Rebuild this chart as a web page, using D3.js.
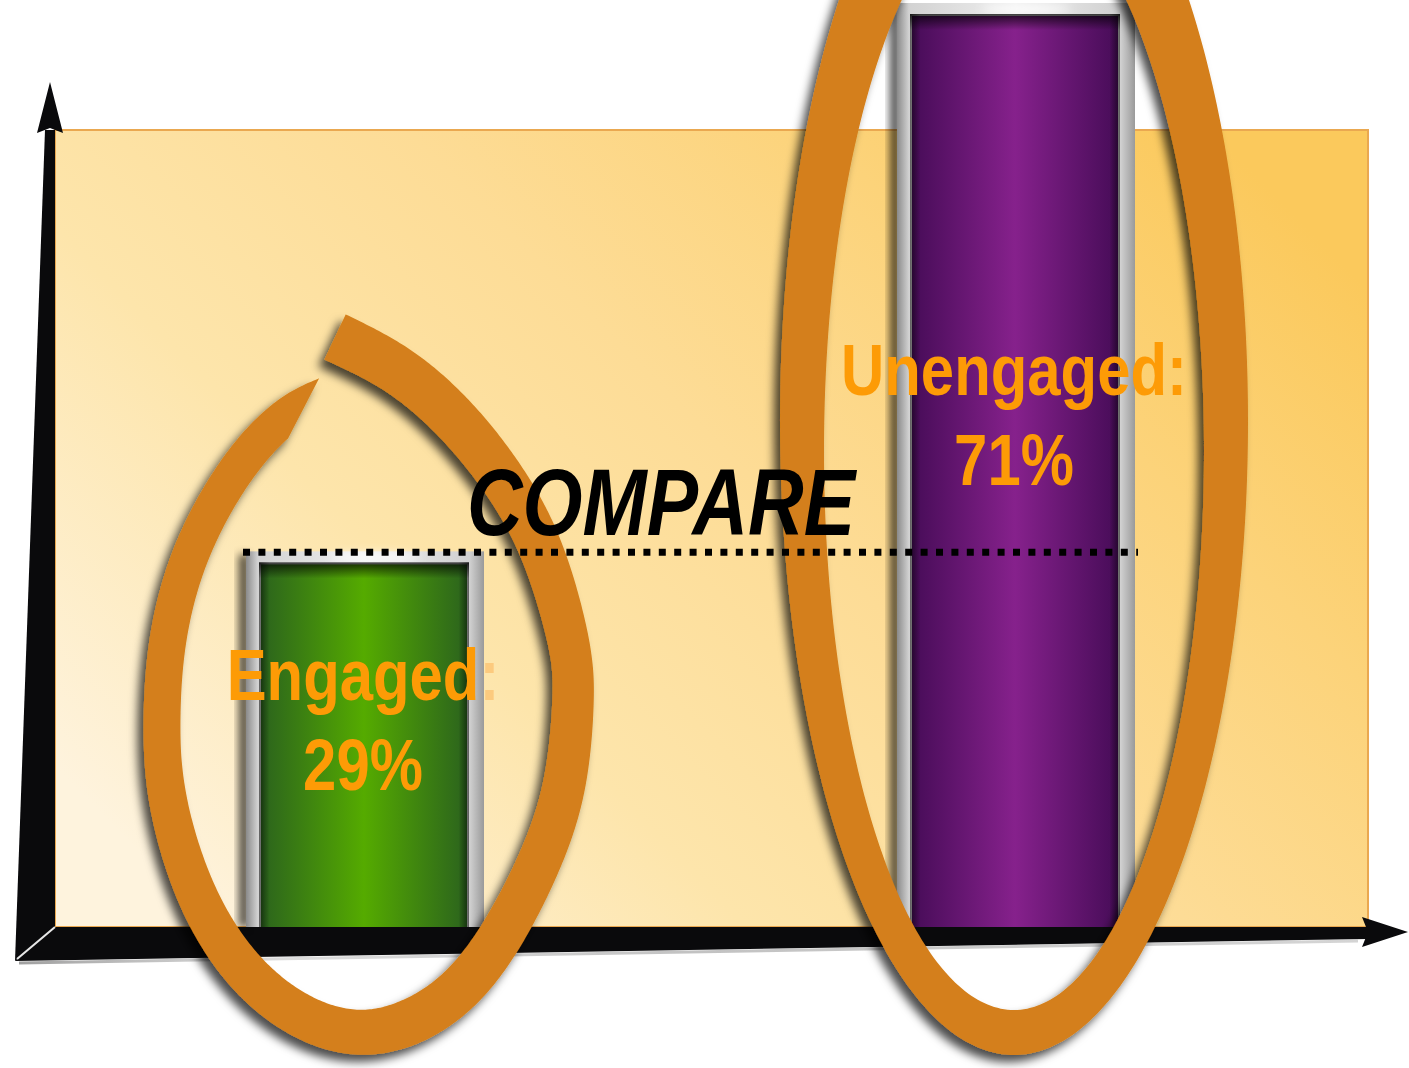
<!DOCTYPE html>
<html>
<head>
<meta charset="utf-8">
<script src="https://cdn.jsdelivr.net/npm/d3@7"></script>
<style>
  html, body { margin: 0; padding: 0; background: #ffffff; overflow: hidden; }
  svg { display: block; }
</style>
</head>
<body>
<svg id="chart" width="1409" height="1068"></svg>
<script>
// ---- data ----
const categories = ["Engaged", "Unengaged"];
const values = [29, 71];
const labelNames = ["Engaged:", "Unengaged:"];
const valueLabels = ["29%", "71%"];
const titleText = "COMPARE";

// ---- styles ----
const barPalette = {
  Engaged:   { edge: "#2b631d", mid: "#55ab00" },
  Unengaged: { edge: "#470c58", mid: "#86218c" }
};
const ringColor = "#d47f1a";
const labelColor = "#fd9b06";
const labelFont = "'Liberation Sans', Arial, Helvetica, sans-serif";
const narrow = 0.82;   // horizontal squeeze giving the condensed lettering

// ---- layout ----
const W = 1409, H = 1068;
const panel = { left: 55, right: 1368, top: 130 };
const x = d3.scalePoint().domain(categories).range([365, 1016]);
const y = d3.scaleLinear().domain([0, d3.max(values)]).range([927, 0]);
const floorY = y(0);
const barW = 238;
const labelRise = [0.60, 0.574];   // first label line sits at this share of the bar's value

const svg = d3.select("#chart");
const defs = svg.append("defs");

function linGrad(id, x1, y1, x2, y2, stops) {
  const g = defs.append("linearGradient").attr("id", id)
    .attr("x1", x1).attr("y1", y1).attr("x2", x2).attr("y2", y2);
  stops.forEach(([o, c, op]) => g.append("stop").attr("offset", o).attr("stop-color", c)
    .attr("stop-opacity", op === undefined ? 1 : op));
  return g;
}

linGrad("panelGrad", 0, 0.8, 1, 0.2, [
  [0, "#fef3dd"], [0.3, "#fde5ab"], [0.55, "#fddc96"], [0.78, "#fcd37a"], [1, "#fbc95c"]
]);
linGrad("frameGrad", 0, 0, 1, 0, [
  [0, "#8a8a8a"], [0.05, "#d2d2d2"], [0.5, "#efefef"], [0.94, "#d0d0d0"], [1, "#9a9a9a"]
]);
linGrad("innerTopShade", 0, 0, 0, 1, [[0, "#000", 0.75], [1, "#000", 0]]);
linGrad("innerSideShade", 0, 0, 1, 0, [
  [0, "#000", 0.55], [0.05, "#000", 0], [0.95, "#000", 0], [1, "#000", 0.55]
]);
linGrad("floorGlow", 0, 0, 1, 0, [
  [0, "#888", 0.8], [0.2, "#bbb", 0.5], [0.5, "#999", 0.6], [1, "#aaa", 0.5]
]);
categories.forEach(c => {
  const p = barPalette[c];
  linGrad("bar-" + c, 0, 0, 1, 0, [[0, p.edge], [0.5, p.mid], [1, p.edge]]);
});

const blur = defs.append("filter").attr("id", "soft")
  .attr("x", "-50%").attr("y", "-10%").attr("width", "200%").attr("height", "120%");
blur.append("feGaussianBlur").attr("stdDeviation", 4);

const sheen = defs.append("filter").attr("id", "sheen")
  .attr("x", "-50%").attr("y", "-200%").attr("width", "200%").attr("height", "500%");
sheen.append("feGaussianBlur").attr("stdDeviation", 5);

const ringShadow = defs.append("filter").attr("id", "ringShadow")
  .attr("x", "-20%").attr("y", "-10%").attr("width", "140%").attr("height", "120%");
ringShadow.append("feDropShadow").attr("dx", -6).attr("dy", 7)
  .attr("stdDeviation", 5).attr("flood-color", "#000").attr("flood-opacity", 0.7);

// ---- background panel ----
svg.append("rect")
  .attr("x", panel.left).attr("y", panel.top)
  .attr("width", panel.right - panel.left).attr("height", floorY - panel.top)
  .attr("fill", "url(#panelGrad)")
  .attr("stroke", "#eaa850").attr("stroke-width", 2);

// ---- axes ----
const axes = svg.append("g").attr("class", "axes");
axes.append("path")
  .attr("d", `M${panel.left - 10},${panel.top} L${panel.left},${panel.top} L${panel.left},${floorY} L${panel.left - 40},${floorY + 34} Z`)
  .attr("fill", "#0a0a0c");
axes.append("path")
  .attr("d", `M${panel.left - 18},${panel.top + 3} L${panel.left - 5},${panel.top - 48} L${panel.left + 8},${panel.top + 3} L${panel.left - 5},${panel.top - 2} Z`)
  .attr("fill", "#0a0a0c");
axes.append("path")
  .attr("d", `M${panel.left - 40},${floorY + 34} L${panel.left},${floorY} L${panel.right},${floorY} L${panel.right},${floorY + 12} Z`)
  .attr("fill", "#0a0a0c");
axes.append("path")
  .attr("d", `M${panel.right - 6},${floorY - 10} L${panel.right + 40},${floorY + 5} L${panel.right - 6},${floorY + 20} L${panel.right},${floorY + 5} Z`)
  .attr("fill", "#0a0a0c");
axes.append("path")
  .attr("d", `M${panel.left - 36},${floorY + 36} L${panel.right - 10},${floorY + 14}`)
  .attr("stroke", "url(#floorGlow)").attr("stroke-width", 3).attr("fill", "none");
axes.append("line")
  .attr("x1", panel.left).attr("y1", floorY)
  .attr("x2", panel.left - 38).attr("y2", floorY + 32)
  .attr("stroke", "#e6e6e6").attr("stroke-width", 2);

// ---- bars ----
const barData = categories.map((c, i) => ({ cat: c, value: values[i], i }));
const bars = svg.append("g").attr("class", "bars")
  .selectAll("g").data(barData).join("g");

bars.append("rect")
  .attr("x", d => x(d.cat) - barW / 2 - 7)
  .attr("y", d => y(d.value) + 6)
  .attr("width", 10)
  .attr("height", d => floorY - y(d.value) - 6)
  .attr("fill", "#000").attr("opacity", 0.7)
  .attr("filter", "url(#soft)");

bars.append("rect")
  .attr("x", d => x(d.cat) - barW / 2)
  .attr("y", d => y(d.value) + 3)
  .attr("width", barW)
  .attr("height", d => floorY - y(d.value) - 3)
  .attr("fill", "url(#frameGrad)");

bars.append("ellipse")
  .attr("cx", d => x(d.cat) + 10)
  .attr("cy", d => y(d.value) + 9)
  .attr("rx", 45).attr("ry", 4)
  .attr("fill", "#ffffff").attr("filter", "url(#sheen)");

bars.append("rect")
  .attr("x", d => x(d.cat) - barW / 2 + 15)
  .attr("y", d => y(d.value) + 16)
  .attr("width", barW - 32)
  .attr("height", d => floorY - y(d.value) - 16)
  .attr("fill", d => `url(#bar-${d.cat})`);
bars.append("rect")
  .attr("x", d => x(d.cat) - barW / 2 + 13)
  .attr("y", d => y(d.value) + 14)
  .attr("width", barW - 28)
  .attr("height", d => floorY - y(d.value) - 14)
  .attr("fill", "url(#innerSideShade)");
bars.append("rect")
  .attr("x", d => x(d.cat) - barW / 2 + 13)
  .attr("y", d => y(d.value) + 14)
  .attr("width", barW - 28)
  .attr("height", 16)
  .attr("fill", "url(#innerTopShade)");

// ---- highlight rings ----
const rings = svg.append("g").attr("class", "rings").attr("filter", "url(#ringShadow)");
const rad = Math.PI / 180;

// Open teardrop loop, drawn clockwise from the top point, as a brush stroke.
// The guide shape is given relative to the loop's centre.
const loopGuide = [
  [-33, -362], [32, -327], [92, -274], [142, -209], [177, -139], [200, -59], [205, 1],
  [197, 81], [172, 161], [127, 246], [72, 306], [2, 333], [-68, 316], [-128, 266],
  [-173, 191], [-200, 101], [-206, 21], [-200, -59], [-180, -137], [-147, -205],
  [-110, -256], [-74, -288], [-42, -304]
];
const widthStops = d3.scaleLinear()
  .domain([0, 0.25, 0.5, 0.75, 1])
  .range([50, 41, 46, 37, 36]);
const innerEnd = 0.965;   // inner edge stops short of the outer one: slanted, pointed end

function teardropStroke(cx, cy) {
  const guideD = d3.line().curve(d3.curveNatural)(loopGuide.map(([dx, dy]) => [cx + dx, cy + dy]));
  const probe = defs.append("path").attr("d", guideD).node();
  const L = probe.getTotalLength();
  const sample = (f, side) => {
    const s = L * f;
    const p = probe.getPointAtLength(s);
    const p0 = probe.getPointAtLength(Math.max(0, s - 2));
    const p1 = probe.getPointAtLength(Math.min(L, s + 2));
    const tx = p1.x - p0.x, ty = p1.y - p0.y, len = Math.hypot(tx, ty) || 1;
    const off = side * widthStops(f) / 2;
    return [p.x + (ty / len) * off, p.y + (-tx / len) * off];
  };
  const N = 600;
  const outer = d3.range(N + 1).map(i => sample(i / N, 1));
  const inner = d3.range(N + 1).map(i => sample(innerEnd * i / N, -1)).reverse();
  probe.remove();
  return d3.line()(outer.concat(inner)) + "Z";
}

function ellipsePoints(cx, cy, rx, ry) {
  return d3.range(0, 360, 1).map(d => [cx + rx * Math.sin(d * rad), cy - ry * Math.cos(d * rad)]);
}
// closed loop: outer and inner ellipse, thicker at the bottom
function loopStroke(cx) {
  const closed = d3.line().curve(d3.curveLinearClosed);
  return closed(ellipsePoints(cx, 421, 234, 634)) + " " + closed(ellipsePoints(cx, 451, 190, 559));
}

rings.append("path")
  .attr("d", teardropStroke(x("Engaged") + 3, 699))
  .attr("fill", ringColor);
rings.append("path")
  .attr("d", loopStroke(x("Unengaged") - 2))
  .attr("fill", ringColor)
  .attr("fill-rule", "evenodd");

// ---- comparison line at the smaller value ----
svg.append("line")
  .attr("x1", x(categories[0]) - barW / 2 - 3)
  .attr("x2", x(categories[1]) + barW / 2 + 3)
  .attr("y1", y(values[0]) + 4).attr("y2", y(values[0]) + 4)
  .attr("stroke", "#000").attr("stroke-width", 7)
  .attr("stroke-dasharray", "7 8.4");

// ---- labels ----
const labels = svg.append("g").attr("class", "labels")
  .attr("font-family", labelFont).attr("font-weight", "bold")
  .attr("font-size", 73).attr("fill", labelColor).attr("text-anchor", "middle");

function condensedText(parent, cx, base) {
  return parent.append("text")
    .attr("transform", `translate(${cx},${base}) scale(${narrow},1)`);
}

barData.forEach(d => {
  const base = y(d.value * labelRise[d.i]);
  const name = labelNames[d.i];
  const t = condensedText(labels, x(d.cat) - 2, base);
  t.append("tspan").text(name.slice(0, -1));
  t.append("tspan").text(name.slice(-1)).attr("fill", d.i === 0 ? "#fcca7e" : labelColor);
  condensedText(labels, x(d.cat) - 2, base + 90).text(valueLabels[d.i]);
});

condensedText(svg, 661, 535)
  .attr("text-anchor", "middle")
  .attr("font-family", labelFont).attr("font-weight", "bold").attr("font-style", "italic")
  .attr("font-size", 94).attr("fill", "#000")
  .text(titleText);
</script>
</body>
</html>
